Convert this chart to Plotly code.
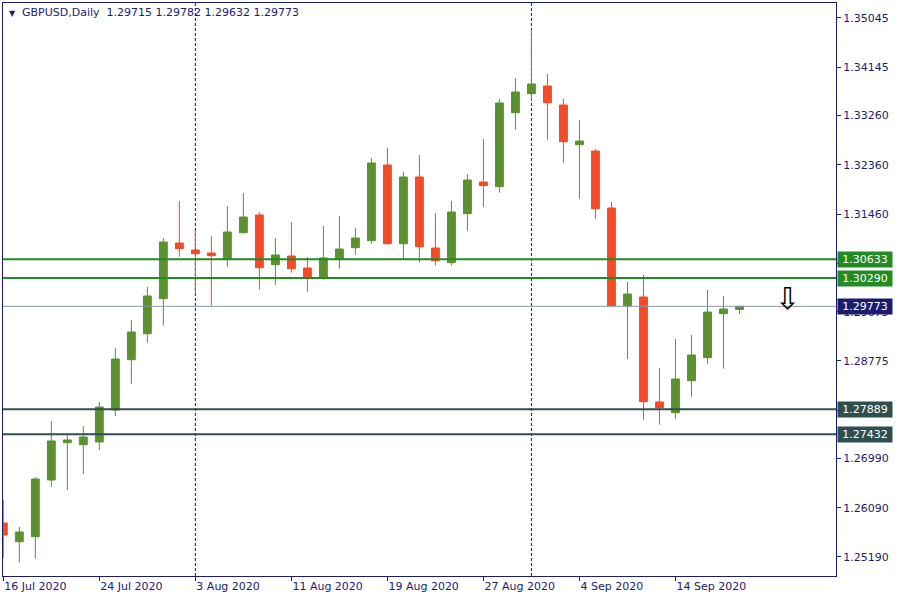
import plotly.graph_objects as go

# ---- data ----
dates = ["2020-07-16", "2020-07-17", "2020-07-20", "2020-07-21", "2020-07-22", "2020-07-23", "2020-07-24",
         "2020-07-27", "2020-07-28", "2020-07-29", "2020-07-30", "2020-07-31",
         "2020-08-03", "2020-08-04", "2020-08-05", "2020-08-06", "2020-08-07",
         "2020-08-10", "2020-08-11", "2020-08-12", "2020-08-13", "2020-08-14",
         "2020-08-17", "2020-08-18", "2020-08-19", "2020-08-20", "2020-08-21",
         "2020-08-24", "2020-08-25", "2020-08-26", "2020-08-27", "2020-08-28",
         "2020-08-31", "2020-09-01", "2020-09-02", "2020-09-03", "2020-09-04",
         "2020-09-07", "2020-09-08", "2020-09-09", "2020-09-10", "2020-09-11",
         "2020-09-14", "2020-09-15", "2020-09-16", "2020-09-17", "2020-09-18"]
opens = [1.25811, 1.25469, 1.25561, 1.26597, 1.27279, 1.27243, 1.27292, 1.27877, 1.28797, 1.29272,
         1.29912, 1.30931, 1.30803, 1.30748, 1.30633, 1.31119, 1.31443, 1.30534, 1.30693, 1.30474,
         1.30296, 1.30638, 1.30845, 1.30973, 1.32357, 1.30918, 1.32138, 1.30839, 1.30571, 1.31467,
         1.32046, 1.31960, 1.33313, 1.33661, 1.33802, 1.33454, 1.32728, 1.32613, 1.31571, 1.29784,
         1.29944, 1.28024, 1.27828, 1.28413, 1.28834, 1.29638, 1.29715]
highs = [1.26232, 1.25738, 1.26647, 1.27676, 1.27420, 1.27585, 1.28024, 1.29011, 1.29523, 1.30126,
         1.31022, 1.31699, 1.31150, 1.31059, 1.31607, 1.31845, 1.31498, 1.31022, 1.31315, 1.30675,
         1.31242, 1.31425, 1.31205, 1.32485, 1.32668, 1.32229, 1.32540, 1.31479, 1.31699, 1.32193,
         1.32833, 1.33564, 1.33948, 1.34826, 1.34021, 1.33564, 1.33180, 1.32650, 1.31681, 1.30218,
         1.30346, 1.28645, 1.29176, 1.29249, 1.30072, 1.29962, 1.29782]
lows = [1.25171, 1.25085, 1.25158, 1.26469, 1.26415, 1.26707, 1.27146, 1.27768, 1.28358, 1.29108,
        1.29419, 1.30680, 1.30022, 1.29784, 1.30497, 1.31101, 1.30077, 1.30168, 1.30388, 1.30040,
        1.30260, 1.30461, 1.30717, 1.30918, 1.30900, 1.30638, 1.30571, 1.30516, 1.30516, 1.31156,
        1.31595, 1.31851, 1.33003, 1.33533, 1.32820, 1.32399, 1.31741, 1.31375, 1.29766, 1.28810,
        1.27700, 1.27609, 1.27718, 1.28120, 1.28724, 1.28633, 1.29632]
closes = [1.25590, 1.25647, 1.26616, 1.27311, 1.27329, 1.27384, 1.27932, 1.28810, 1.29304, 1.29962,
          1.30949, 1.30827, 1.30735, 1.30699, 1.31132, 1.31406, 1.30479, 1.30712, 1.30461, 1.30296,
          1.30657, 1.30821, 1.31022, 1.32394, 1.30918, 1.32138, 1.30863, 1.30607, 1.31498, 1.32083,
          1.31979, 1.33491, 1.33692, 1.33838, 1.33496, 1.32783, 1.32796, 1.31558, 1.29784, 1.29998,
          1.28029, 1.27919, 1.28444, 1.28883, 1.29669, 1.29724, 1.29773]

tick_dates = ["2020-07-16", "2020-07-24", "2020-08-03", "2020-08-11", "2020-08-19",
              "2020-08-27", "2020-09-04", "2020-09-14"]
tick_labels = ["16 Jul 2020", "24 Jul 2020", "3 Aug 2020", "11 Aug 2020", "19 Aug 2020",
               "27 Aug 2020", "4 Sep 2020", "14 Sep 2020"]
price_ticks = [1.35045, 1.34145, 1.33260, 1.32360, 1.31460, 1.30560, 1.29675, 1.28775,
               1.27875, 1.26990, 1.26090, 1.25190]
hidden_price_ticks = [1.30560, 1.27875]  # covered by the level labels in the reference
separator_dates = ["2020-08-03", "2020-09-01"]
green_levels = [1.30633, 1.30290]
dark_levels = [1.27889, 1.27432]
bid_price = 1.29773
arrow_bar = 49  # bar slot of the down-arrow object
y_range = [1.24842, 1.35319]
x_range = [-0.02, 52.03]

NAVY = "#1b1b6f"
GREEN_C = "#5a922f"
RED_C = "#f34b25"
FONT = "DejaVu Sans"

xs = list(range(len(dates)))

fig = go.Figure()
fig.add_trace(go.Candlestick(
    x=xs, open=opens, high=highs, low=lows, close=closes,
    increasing=dict(line=dict(color=GREEN_C, width=1), fillcolor=GREEN_C),
    decreasing=dict(line=dict(color=RED_C, width=1), fillcolor=RED_C),
    whiskerwidth=0, showlegend=False, hoverinfo="skip",
))

shapes = []
for d in separator_dates:
    i = dates.index(d)
    shapes.append(dict(type="line", xref="x", yref="paper", x0=i, x1=i, y0=0, y1=1,
                       line=dict(color=NAVY, width=1, dash="3px,2px"), layer="below"))
shapes.append(dict(type="line", xref="paper", yref="y", x0=0, x1=1, y0=bid_price, y1=bid_price,
                   line=dict(color="#8a96a4", width=1), layer="above"))
for lv in green_levels:
    shapes.append(dict(type="line", xref="paper", yref="y", x0=0, x1=1, y0=lv, y1=lv,
                       line=dict(color="#228b22", width=2), layer="above"))
for lv in dark_levels:
    shapes.append(dict(type="line", xref="paper", yref="y", x0=0, x1=1, y0=lv, y1=lv,
                       line=dict(color="#2f4f4f", width=2), layer="above"))

annotations = []
def price_label(v, bg):
    annotations.append(dict(xref="paper", yref="y", x=1, y=v, xanchor="left", yanchor="middle",
                            text=f"{v:.5f}", showarrow=False, bgcolor=bg, borderpad=1,
                            xshift=1, width=52, align="center",
                            font=dict(family=FONT, size=11, color="white")))
for lv in green_levels:
    price_label(lv, "#228b22")
for lv in dark_levels:
    price_label(lv, "#2f4f4f")
price_label(bid_price, "#1b1b6f")

annotations.append(dict(xref="paper", yref="paper", x=0, y=1, xanchor="left", yanchor="top",
                        xshift=4, yshift=-4, text="▼", showarrow=False,
                        font=dict(family=FONT, size=8, color=NAVY)))
annotations.append(dict(xref="paper", yref="paper", x=0, y=1, xanchor="left", yanchor="top",
                        xshift=17, yshift=-1,
                        text=f"GBPUSD,Daily  {opens[-1]:.5f} {highs[-1]:.5f} {lows[-1]:.5f} {closes[-1]:.5f}",
                        showarrow=False, font=dict(family=FONT, size=11, color=NAVY)))
annotations.append(dict(xref="x", yref="y", x=arrow_bar, y=bid_price, xanchor="center",
                        yanchor="bottom", yshift=-12, text="⇩", showarrow=False,
                        font=dict(family=FONT, size=30, color="black")))

fig.update_layout(
    width=900, height=600,
    margin=dict(l=3, r=64, t=3, b=24),
    paper_bgcolor="white", plot_bgcolor="white",
    boxgap=0.3,
    shapes=shapes, annotations=annotations,
    xaxis=dict(range=x_range, showgrid=False, zeroline=False, showline=True, mirror=True,
               linecolor=NAVY, linewidth=1, ticks="outside", ticklen=4, tickcolor=NAVY,
               tickvals=[dates.index(d) for d in tick_dates], ticktext=tick_labels,
               ticklabelposition="outside right",
               tickfont=dict(family=FONT, size=11, color=NAVY),
               rangeslider=dict(visible=False)),
    yaxis=dict(range=y_range, side="right", showgrid=False, zeroline=False, showline=True,
               mirror=True, linecolor=NAVY, linewidth=1, ticks="outside", ticklen=4,
               tickcolor=NAVY, tickvals=price_ticks,
               ticktext=["" if v in hidden_price_ticks else f"{v:.5f}" for v in price_ticks],
               tickfont=dict(family=FONT, size=11, color=NAVY)),
)

fig.write_html("out.html", post_script="document.body.style.margin='0';",
               config={"displayModeBar": False})
